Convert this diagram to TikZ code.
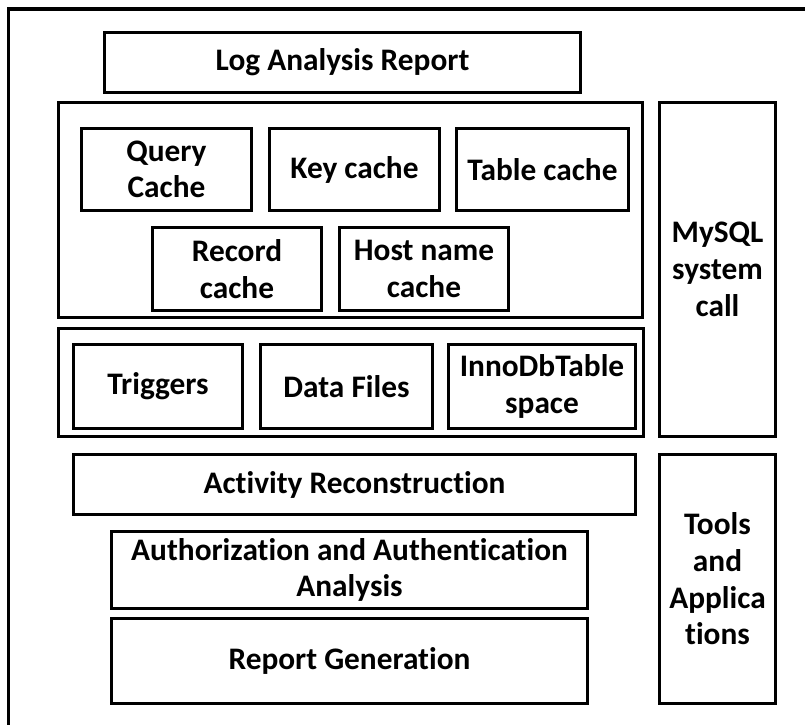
\documentclass[tikz,border=0pt]{standalone}
\usepackage{fontspec}
\setmainfont{Carlito}[Ligatures=NoCommon]
\begin{document}
\begin{tikzpicture}[x=0.75pt,y=-0.75pt,
  blk/.style={draw=black, line width=2.6pt, fill=white, rectangle, inner sep=1pt,
    align=center, font=\fontsize{23.5}{27.5}\selectfont\bfseries},
  frame/.style={draw=black, line width=2.3pt}]
% page area in pixel units
\useasboundingbox (0,0) rectangle (805,724);
\begin{scope}
  \clip (0,0) rectangle (805,724);
  \draw[frame] (8.5,9) rectangle (830,750);
\end{scope}
% box from outer corners (x1,y1)-(x2,y2), given in pixels
\newcommand\pxbox[6]{%
  \node[blk, minimum width={(#4-#2-3.5)*0.75pt}, minimum height={(#5-#3-3.5)*0.75pt}]
    (#1) at ({(#2+#4)/2},{(#3+#5)/2}) {#6};}
\pxbox{report}{103}{31}{582}{94}{Log Analysis Report}
% cache layer
\pxbox{cachegrp}{57}{101}{644}{319}{}
\pxbox{query}{80}{127}{253}{212}{Query\\Cache}
\pxbox{key}{268}{127}{441}{212}{Key cache}
\pxbox{table}{455}{127}{630}{212}{Table cache}
\pxbox{record}{151}{226}{323}{312}{Record\\cache}
\pxbox{host}{338}{226}{510}{312}{Host name\\cache}
% storage layer
\pxbox{storegrp}{57}{327}{645}{438}{}
\pxbox{trig}{72}{343}{244}{430}{Triggers}
\pxbox{data}{259}{343}{434}{430}{Data Files}
\pxbox{inno}{447}{343}{637}{430}{InnoDbTable\\space}
\pxbox{mysql}{658}{101}{777}{438}{MySQL\\system\\call}
% analysis steps
\pxbox{activity}{72}{453}{637}{516}{Activity Reconstruction}
\pxbox{auth}{110}{530}{589}{610}{Authorization and Authentication\\Analysis}
\pxbox{repgen}{110}{617}{589}{705}{Report Generation}
\pxbox{tools}{658}{453}{777}{705}{Tools\\and\\Applica\\tions}
\end{tikzpicture}
\end{document}
